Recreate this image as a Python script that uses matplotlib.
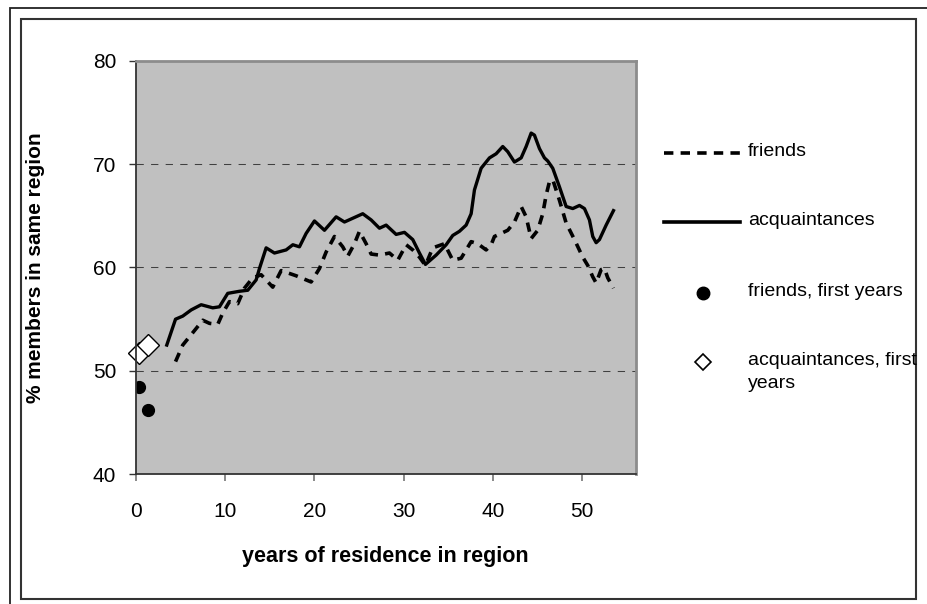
import matplotlib.pyplot as plt
from matplotlib.lines import Line2D
from matplotlib.patches import Rectangle

# acquaintances, moving curve
years_acq = [3.48, 4.46, 5.27, 6.22, 7.33, 8.63, 9.38, 10.31, 11.62, 12.55, 13.49, 13.86,
             14.61, 15.54, 16.85, 17.6, 18.34, 19.09, 20.02, 21.14, 22.45, 23.38, 25.43,
             26.37, 27.3, 28.05, 29.17, 30.1, 31.03, 31.78, 32.45, 33.65, 34.77, 35.51,
             36.26, 37.01, 37.57, 37.94, 38.69, 39.62, 40.37, 41.11, 41.67, 42.42, 43.17,
             43.73, 44.29, 44.66, 45.22, 45.78, 46.15, 46.71, 47.46, 48.21, 48.95, 49.7,
             50.26, 50.82, 51.19, 51.57, 51.94, 52.69, 53.51]
acq = [52.5, 55.0, 55.3, 55.9, 56.4, 56.1, 56.2, 57.5, 57.7, 57.8, 58.8, 59.9,
       61.9, 61.4, 61.7, 62.2, 62.0, 63.3, 64.5, 63.6, 64.9, 64.4, 65.2,
       64.6, 63.8, 64.1, 63.2, 63.4, 62.7, 61.4, 60.3, 61.2, 62.2, 63.1,
       63.5, 64.1, 65.2, 67.5, 69.6, 70.6, 71.0, 71.7, 71.2, 70.2, 70.6,
       71.7, 73.0, 72.8, 71.5, 70.6, 70.3, 69.6, 67.8, 65.9, 65.7, 66.0,
       65.7, 64.6, 63.0, 62.4, 62.7, 64.1, 65.5]

# friends, moving curve
years_fr = [4.46, 5.27, 6.02, 6.77, 7.51, 8.26, 9.19, 9.75, 10.5, 11.43, 12.18, 13.11,
            14.05, 15.35, 16.29, 17.97, 19.65, 20.58, 21.33, 22.26, 23.19, 23.75, 24.5,
            25.06, 25.81, 26.37, 27.3, 28.42, 29.35, 30.29, 31.03, 31.78, 32.45, 33.27,
            34.58, 35.51, 36.45, 37.57, 38.31, 39.25, 39.81, 40.18, 40.93, 41.67, 42.42,
            43.17, 43.73, 44.29, 45.03, 45.59, 45.97, 46.34, 46.71, 47.46, 48.21, 49.14,
            50.07, 50.63, 51.19, 51.57, 52.13, 52.5, 52.87, 53.51]
friends = [50.9, 52.5, 53.3, 54.1, 54.9, 54.6, 54.5, 55.6, 56.7, 56.5, 58.0, 59.0,
           59.3, 58.1, 59.7, 59.2, 58.6, 59.9, 61.5, 63.0, 62.0, 61.1, 62.3,
           63.5, 62.3, 61.3, 61.2, 61.4, 60.7, 62.2, 61.7, 61.0, 60.2, 61.9,
           62.3, 60.7, 60.9, 62.5, 62.3, 61.7, 62.2, 63.0, 63.3, 63.6, 64.4,
           65.9, 64.9, 62.8, 63.6, 65.2, 67.0, 68.3, 68.5, 66.5, 64.3, 62.7,
           61.0, 60.2, 59.1, 58.5, 59.8, 59.9, 59.0, 58.0]

# first years, single points
first_years = [0.35, 1.4]
friends_first = [48.4, 46.2]
acq_first = [51.7, 52.5]

legend_labels = ["friends", "acquaintances", "friends, first years", "acquaintances, first\nyears"]

plt.rcParams['font.family'] = ['Liberation Sans Narrow', 'Liberation Sans', 'DejaVu Sans']

W, H = 928, 604
fig = plt.figure(figsize=(W / 100, H / 100), dpi=100)

def fx(px):
    return px / W

def fy(py):
    return 1 - py / H

# frames around the chart
fig.add_artist(Rectangle((fx(10), fy(640)), fx(960) - fx(10), fy(8) - fy(640),
                         fill=False, ec='#222222', lw=1.3, transform=fig.transFigure))
fig.add_artist(Rectangle((fx(21), fy(599)), fx(916) - fx(21), fy(19) - fy(599),
                         fill=False, ec='#333333', lw=1.5, transform=fig.transFigure))

ax = fig.add_axes([fx(135.7), fy(474.3), 500 / W, 413.6 / H])
ax.set_facecolor('#c0c0c0')
ax.set_xlim(0, 56)
ax.set_ylim(40, 80)
ax.set_xticks([0, 10, 20, 30, 40, 50])
ax.set_yticks([40, 50, 60, 70, 80])
ax.yaxis.grid(True, ls=(0, (7, 7)), color='#404040', lw=0.75)
ax.set_axisbelow(True)

ax.plot(years_fr, friends, color='black', lw=2.6, ls=(0, (2.6, 2.0)),
        dash_capstyle='butt', label=legend_labels[0])
ax.plot(years_acq, acq, color='black', lw=2.4, solid_joinstyle='round',
        label=legend_labels[1])
ax.plot(first_years, friends_first, 'o', color='black', ms=8.5, ls='none',
        label=legend_labels[2])
ax.plot(first_years, acq_first, 'D', mfc='white', mec='black', mew=1.0, ms=11.5,
        ls='none', label=legend_labels[3], clip_on=False)

for s in ['left', 'bottom']:
    ax.spines[s].set_color('#333333')
    ax.spines[s].set_linewidth(1.3)
for s in ['top', 'right']:
    ax.spines[s].set_color('#8c8c8c')
    ax.spines[s].set_linewidth(2.0)

ax.tick_params(axis='y', length=5, width=1.0, color='#333333', pad=9, labelsize=15)
ax.tick_params(axis='x', length=5, width=1.3, color='#808080', pad=15, labelsize=15)

ax.set_xlabel('years of residence in region', fontsize=15.5, fontweight='bold', labelpad=18)
ax.set_ylabel('% members in same region', fontsize=15, fontweight='bold')
ax.yaxis.set_label_coords(fx(45 - 135.7) * W / 500, 0.5)

# legend on the right, drawn by hand so the marker sits on the first text line
rows = [153, 222, 293, 362]
handles = [dict(ls=(0, (2.6, 2.0)), marker=None), dict(ls='-', marker=None),
           dict(ls='none', marker='o'), dict(ls='none', marker='D')]
for lab, py, h in zip(legend_labels, rows, handles):
    if h['marker'] is None:
        fig.add_artist(Line2D([fx(664), fx(740)], [fy(py), fy(py)], color='black',
                              lw=2.6, ls=h['ls'], dash_capstyle='butt',
                              transform=fig.transFigure))
    elif h['marker'] == 'o':
        fig.add_artist(Line2D([fx(703)], [fy(py)], marker='o', ms=9, color='black',
                              ls='none', transform=fig.transFigure))
    else:
        fig.add_artist(Line2D([fx(703)], [fy(py)], marker='D', ms=8.5, mfc='white',
                              mec='black', mew=1.2, ls='none', transform=fig.transFigure))
    fig.text(fx(748), fy(py - 10), lab, fontsize=14, va='top', ha='left',
             linespacing=1.45)

fig.savefig('out.png', dpi=100)
